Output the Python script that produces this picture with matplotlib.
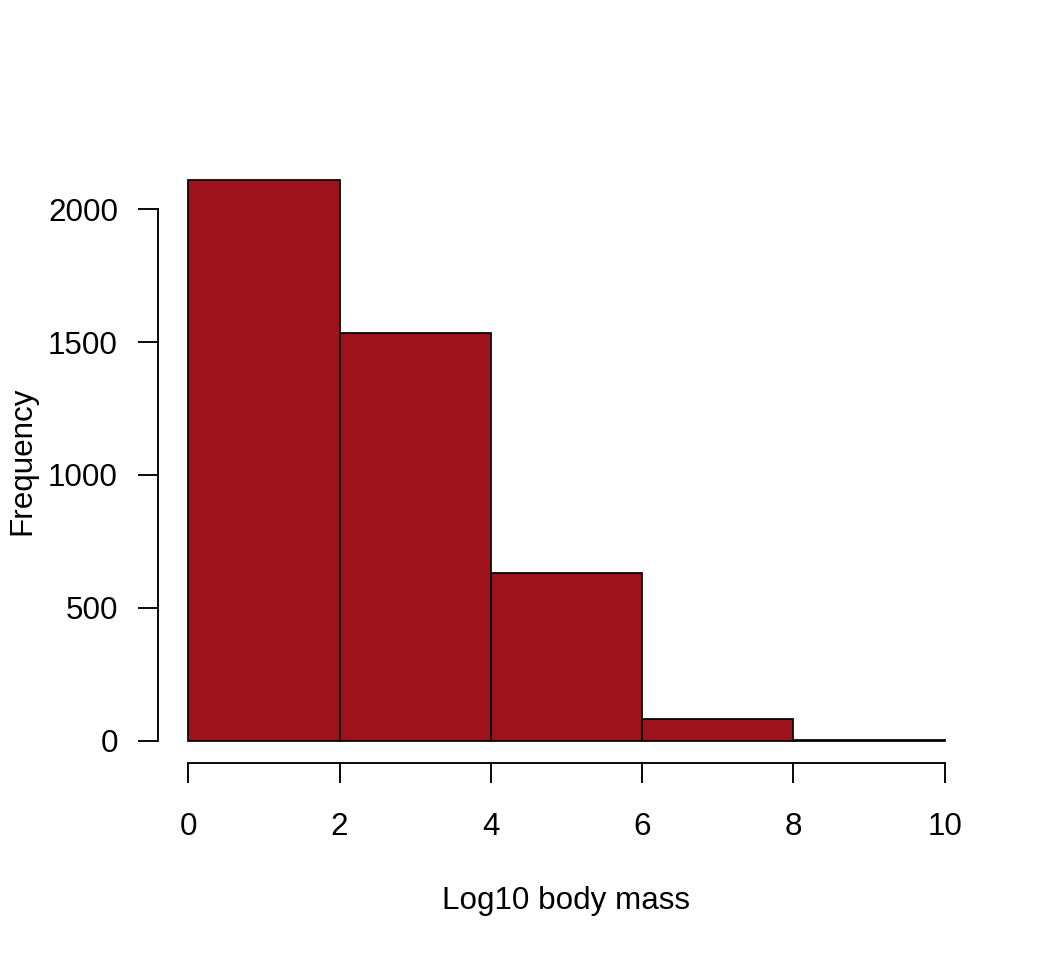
import matplotlib

matplotlib.use("Agg")
import matplotlib.pyplot as plt

# histogram bins (log10 body mass) and counts
bin_edges = [0, 2, 4, 6, 8, 10]
counts = [2109, 1534, 632, 83, 2]
x_ticks = [0, 2, 4, 6, 8, 10]
y_ticks = [0, 500, 1000, 1500, 2000]

plt.rcParams["font.family"] = ["Liberation Sans", "DejaVu Sans"]

fig = plt.figure(figsize=(11, 10), dpi=96)
ax = fig.add_axes([158 / 1056, 1 - 763 / 960, (975 - 158) / 1056, (763 - 158) / 960])

widths = [bin_edges[i + 1] - bin_edges[i] for i in range(len(counts))]
ax.bar(bin_edges[:-1], counts, width=widths, align="edge",
       color="#9E121B", edgecolor="black", linewidth=1.3)

ax.set_xlim(-0.4, 10.4)
ax.set_ylim(-0.04 * max(counts), 1.04 * max(counts))

for side in ("top", "right"):
    ax.spines[side].set_visible(False)
ax.spines["left"].set_bounds(0, 2000)
ax.spines["bottom"].set_bounds(0, 10)
ax.spines["left"].set_linewidth(1.4)
ax.spines["bottom"].set_linewidth(1.4)

ax.set_xticks(x_ticks)
ax.set_yticks(y_ticks)
ax.tick_params(direction="out", length=15, width=1.4, labelsize=23.5)
ax.tick_params(axis="x", pad=22)
ax.tick_params(axis="y", pad=15)

ax.set_xlabel("Log10 body mass", fontsize=23.5, labelpad=33)
ax.set_ylabel("Frequency", fontsize=23.5, labelpad=8)

fig.savefig("out.png", dpi=96)
